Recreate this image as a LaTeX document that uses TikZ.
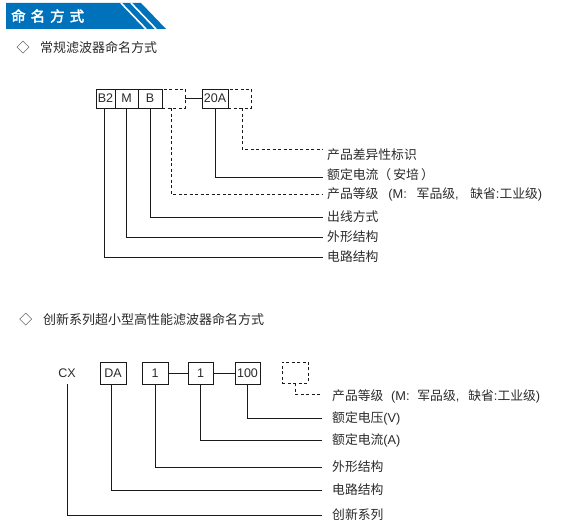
\documentclass[tikz,border=0pt]{standalone}
\usepackage{fontspec}
\setmainfont{Liberation Sans}
\newfontfamily\cjk{Noto Sans CJK SC}
\newfontfamily\cjkbold[FakeBold=2.5]{Noto Sans CJK SC}
\definecolor{hdrblue}{HTML}{0072BC}
\definecolor{txt}{HTML}{2A2A2A}
\definecolor{linec}{HTML}{1A1A1A}
\tikzset{
  box/.style={draw=linec, line width=0.9pt, minimum height=19pt, inner sep=0pt,
    font=\rmfamily\fontsize{12.5}{14}\selectfont, text=txt},
  dbox/.style={box, dash pattern=on 3pt off 2.5pt},
  lab/.style={anchor=west, inner sep=0pt, font=\cjk\fontsize{12.8}{15}\selectfont, text=txt},
  ttl/.style={anchor=west, inner sep=0pt, font=\cjk\fontsize{13}{15}\selectfont, text=txt},
  conn/.style={draw=linec, line width=0.9pt},
  dconn/.style={conn, dash pattern=on 3pt off 2.5pt},
}
\newcommand{\la}[1]{{\rmfamily #1}}
\begin{document}
\begin{tikzpicture}[x=1pt,y=-1pt]
\useasboundingbox (0,0) rectangle (563,529);
% header
\fill[hdrblue] (6,3) -- (141,3) -- (166,29) -- (6,29) -- cycle;
\draw[white, line width=1.6pt] (121,3) -- (146,29);
\draw[white, line width=1.6pt] (131,3) -- (156,29);
\node[anchor=west, inner sep=0pt, text=white, font=\cjkbold\fontsize{14.5}{16}\selectfont] (hdr) at (11,16) {命\hspace{5pt}名\hspace{5pt}方\hspace{5pt}式};
% title 1
\node[ttl, anchor=center] (t1d) at (23,48) {◇};
\node[ttl] (t1) at (40,48) {常规滤波器命名方式};
% section 1 boxes
\node[box, minimum width=19pt] (b2) at (105.5,98.5) {B2};
\node[box, minimum width=23pt] (m) at (126.5,98.5) {M};
\node[box, minimum width=24pt] (b) at (150,98.5) {B};
\node[dbox, minimum width=23pt] (d1) at (173.5,98.5) {};
\node[box, minimum width=26pt] (a20) at (215,98.5) {20A};
\node[dbox, minimum width=23pt] (d2) at (239.5,98.5) {};
\draw[conn] (d1) -- (a20);
% section 1 labels
\node[lab] (l1) at (327,155) {产品差异性标识};
\node[lab] (l2) at (327,175) {额定电流（\,安培\,）};
\node[lab] (l3) at (327,194) {\makebox[215pt][s]{产品等级 \la{(M:} 军品级\la{,} 缺省\la{:}工业级\la{)}}};
\node[lab] (l4) at (327,217) {出线方式};
\node[lab] (l5) at (327,237) {外形结构};
\node[lab] (l6) at (327,257) {电路结构};
\draw[dconn] ([xshift=2.5pt]d2.south) |- ([xshift=-4pt,yshift=6pt]l1.west);
\draw[conn] (a20.south) |- ([xshift=-4pt,yshift=-2pt]l2.west);
\draw[dconn] ([xshift=-2.5pt]d1.south) |- ([xshift=-4pt]l3.west);
\draw[conn] (b.south) |- ([xshift=-4pt]l4.west);
\draw[conn] (m.south) |- ([xshift=-4pt]l5.west);
\draw[conn] ([xshift=-1.5pt]b2.south) |- ([xshift=-4pt]l6.west);
% title 2
\node[ttl, anchor=center] (t2d) at (26,320) {◇};
\node[ttl] (t2) at (43,320) {创新系列超小型高性能滤波器命名方式};
% section 2 boxes
\node[box, draw=none, minimum height=22pt] (cx) at (67,373) {CX};
\node[box, minimum width=26pt, minimum height=22pt] (da) at (113,373) {DA};
\node[box, minimum width=26pt, minimum height=22pt] (one) at (155,373) {1};
\node[box, minimum width=25pt, minimum height=22pt] (two) at (200.5,373) {1};
\node[box, minimum width=25pt, minimum height=22pt] (hun) at (247.5,373) {100};
\node[dbox, minimum width=26pt, minimum height=21pt] (d3) at (295,372.5) {};
\draw[conn] (one) -- (two);
\draw[conn] (two) -- (hun);
% section 2 labels
\node[lab] (m1) at (332,396) {\makebox[208pt][s]{产品等级 \la{(M:} 军品级\la{,} 缺省\la{:}工业级\la{)}}};
\node[lab] (m2) at (332,418) {额定电压\la{(V)}};
\node[lab] (m3) at (332,440) {额定电流\la{(A)}};
\node[lab] (m4) at (332,467) {外形结构};
\node[lab] (m5) at (332,490) {电路结构};
\node[lab] (m6) at (332,515) {创新系列};
\draw[dconn] (d3.south) |- ([xshift=-10pt,yshift=2pt]m1.west);
\draw[conn] (hun.south) |- ([xshift=-10pt]m2.west);
\draw[conn] (two.south) |- ([xshift=-10pt]m3.west);
\draw[conn] (one.south) |- ([xshift=-10pt]m4.west);
\draw[conn] ([xshift=-2pt]da.south) |- ([xshift=-10pt]m5.west);
\draw[conn] (cx.south) |- ([xshift=-10pt]m6.west);
\end{tikzpicture}
\end{document}
